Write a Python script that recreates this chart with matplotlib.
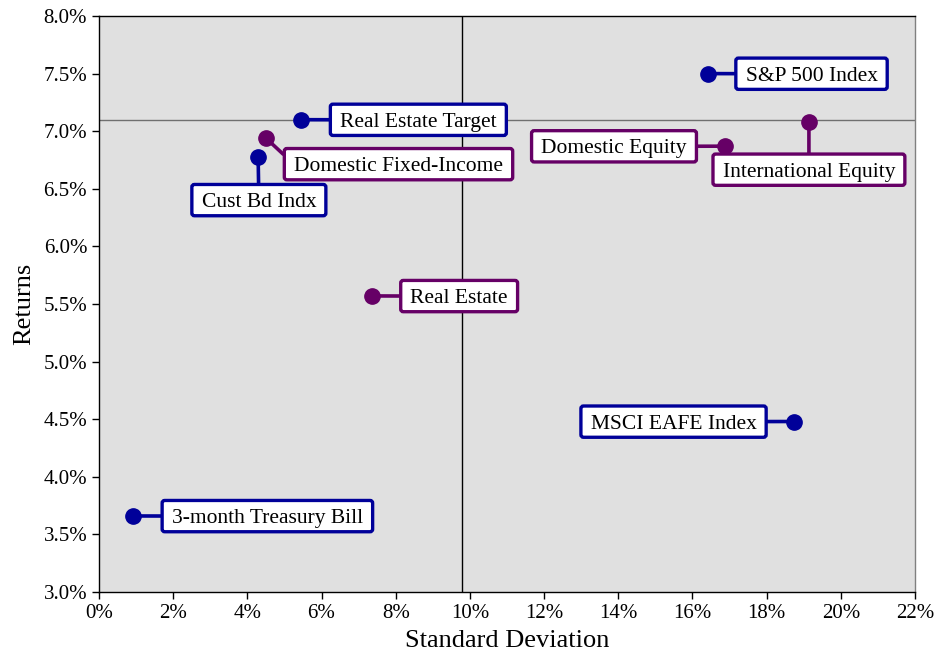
import matplotlib
matplotlib.use("Agg")
import matplotlib.pyplot as plt
from matplotlib.path import Path
from matplotlib.ticker import FuncFormatter, MultipleLocator

plt.rcParams['font.family'] = ['Liberation Serif', 'DejaVu Serif']

# Risk / return data (percent)
names = ["S&P 500 Index", "Real Estate Target", "Domestic Fixed-Income", "Cust Bd Indx",
         "Domestic Equity", "International Equity", "Real Estate", "MSCI EAFE Index",
         "3-month Treasury Bill"]
std_dev = [16.42, 5.44, 4.50, 4.29, 16.87, 19.14, 7.36, 18.73, 0.92]
returns = [7.50, 7.10, 6.94, 6.78, 6.87, 7.08, 5.57, 4.48, 3.66]
is_benchmark = [True, True, False, True, False, False, False, True, True]

avg_std = 9.8
target_return = 7.1

BLUE = "#000099"
PURPLE = "#660066"

# label box centres (data units); None keeps the box level with its point
label_pos = {
    "S&P 500 Index": (19.21, None),
    "Real Estate Target": (8.61, None),
    "Domestic Fixed-Income": (8.075, 6.715),
    "Cust Bd Indx": (4.31, 6.403),
    "Domestic Equity": (13.885, None),
    "International Equity": (19.14, 6.667),
    "Real Estate": (9.71, None),
    "MSCI EAFE Index": (15.49, None),
    "3-month Treasury Bill": (4.54, None),
}
# where each leader line leaves its label (fraction of the text extent)
leader_anchor = {"Domestic Fixed-Income": (0.0, 0.62)}


def label_box(x0, y0, width, height, mutation_size):
    """Rounded rectangle, wider at the sides, balanced about the text's visual centre."""
    px = 0.45 * mutation_size
    pb = 0.175 * mutation_size
    pt = 0.395 * mutation_size
    r = 0.12 * mutation_size
    x0, x1 = x0 - px, x0 + width + px
    y0, y1 = y0 - pb, y0 + height + pt
    verts = [
        (x0 + r, y0), (x1 - r, y0), (x1, y0), (x1, y0 + r),
        (x1, y1 - r), (x1, y1), (x1 - r, y1),
        (x0 + r, y1), (x0, y1), (x0, y1 - r),
        (x0, y0 + r), (x0, y0), (x0 + r, y0),
        (x0 + r, y0),
    ]
    codes = [Path.MOVETO, Path.LINETO, Path.CURVE3, Path.CURVE3,
             Path.LINETO, Path.CURVE3, Path.CURVE3,
             Path.LINETO, Path.CURVE3, Path.CURVE3,
             Path.LINETO, Path.CURVE3, Path.CURVE3,
             Path.CLOSEPOLY]
    return Path(verts, codes)


fig = plt.figure(figsize=(9.35, 6.54), dpi=100)
ax = fig.add_axes([99 / 935, 62 / 654, 816 / 935, 576 / 654])
ax.set_facecolor("#e0e0e0")

ax.set_xlim(0, 22)
ax.set_ylim(3.0, 8.0)

ax.axhline(target_return, color="#707070", lw=1.0, zorder=1)
ax.axvline(avg_std, color="black", lw=1.0, zorder=1)

for n, x, y, bench in zip(names, std_dev, returns, is_benchmark):
    c = BLUE if bench else PURPLE
    ax.plot([x], [y], "o", color=c, ms=11, zorder=4)
    tx, ty = label_pos[n]
    if ty is None:
        ty = y
    ax.annotate(n, xy=(x, y), xytext=(tx, ty), ha="center", va="center_baseline",
                fontsize=15.5, color="black", zorder=5,
                bbox=dict(boxstyle=label_box, fc="white", ec=c, lw=2.4),
                arrowprops=dict(arrowstyle="-", color=c, lw=2.6,
                                shrinkA=0, shrinkB=0,
                                relpos=leader_anchor.get(n, (0.5, 0.62))))

ax.xaxis.set_major_locator(MultipleLocator(2))
ax.yaxis.set_major_locator(MultipleLocator(0.5))
ax.xaxis.set_major_formatter(FuncFormatter(lambda v, p: f"{v:.0f}%"))
ax.yaxis.set_major_formatter(FuncFormatter(lambda v, p: f"{v:.1f}%"))
ax.tick_params(direction="out", length=5, width=1, labelsize=15, colors="black")

for s in ["left", "bottom", "top"]:
    ax.spines[s].set_color("black")
    ax.spines[s].set_linewidth(1)
ax.spines["right"].set_color("#808080")
ax.spines["right"].set_linewidth(1)

ax.set_xlabel("Standard Deviation", fontsize=19, labelpad=5)
ax.set_ylabel("Returns", fontsize=19, labelpad=6)

fig.savefig("out.png", dpi=100)
